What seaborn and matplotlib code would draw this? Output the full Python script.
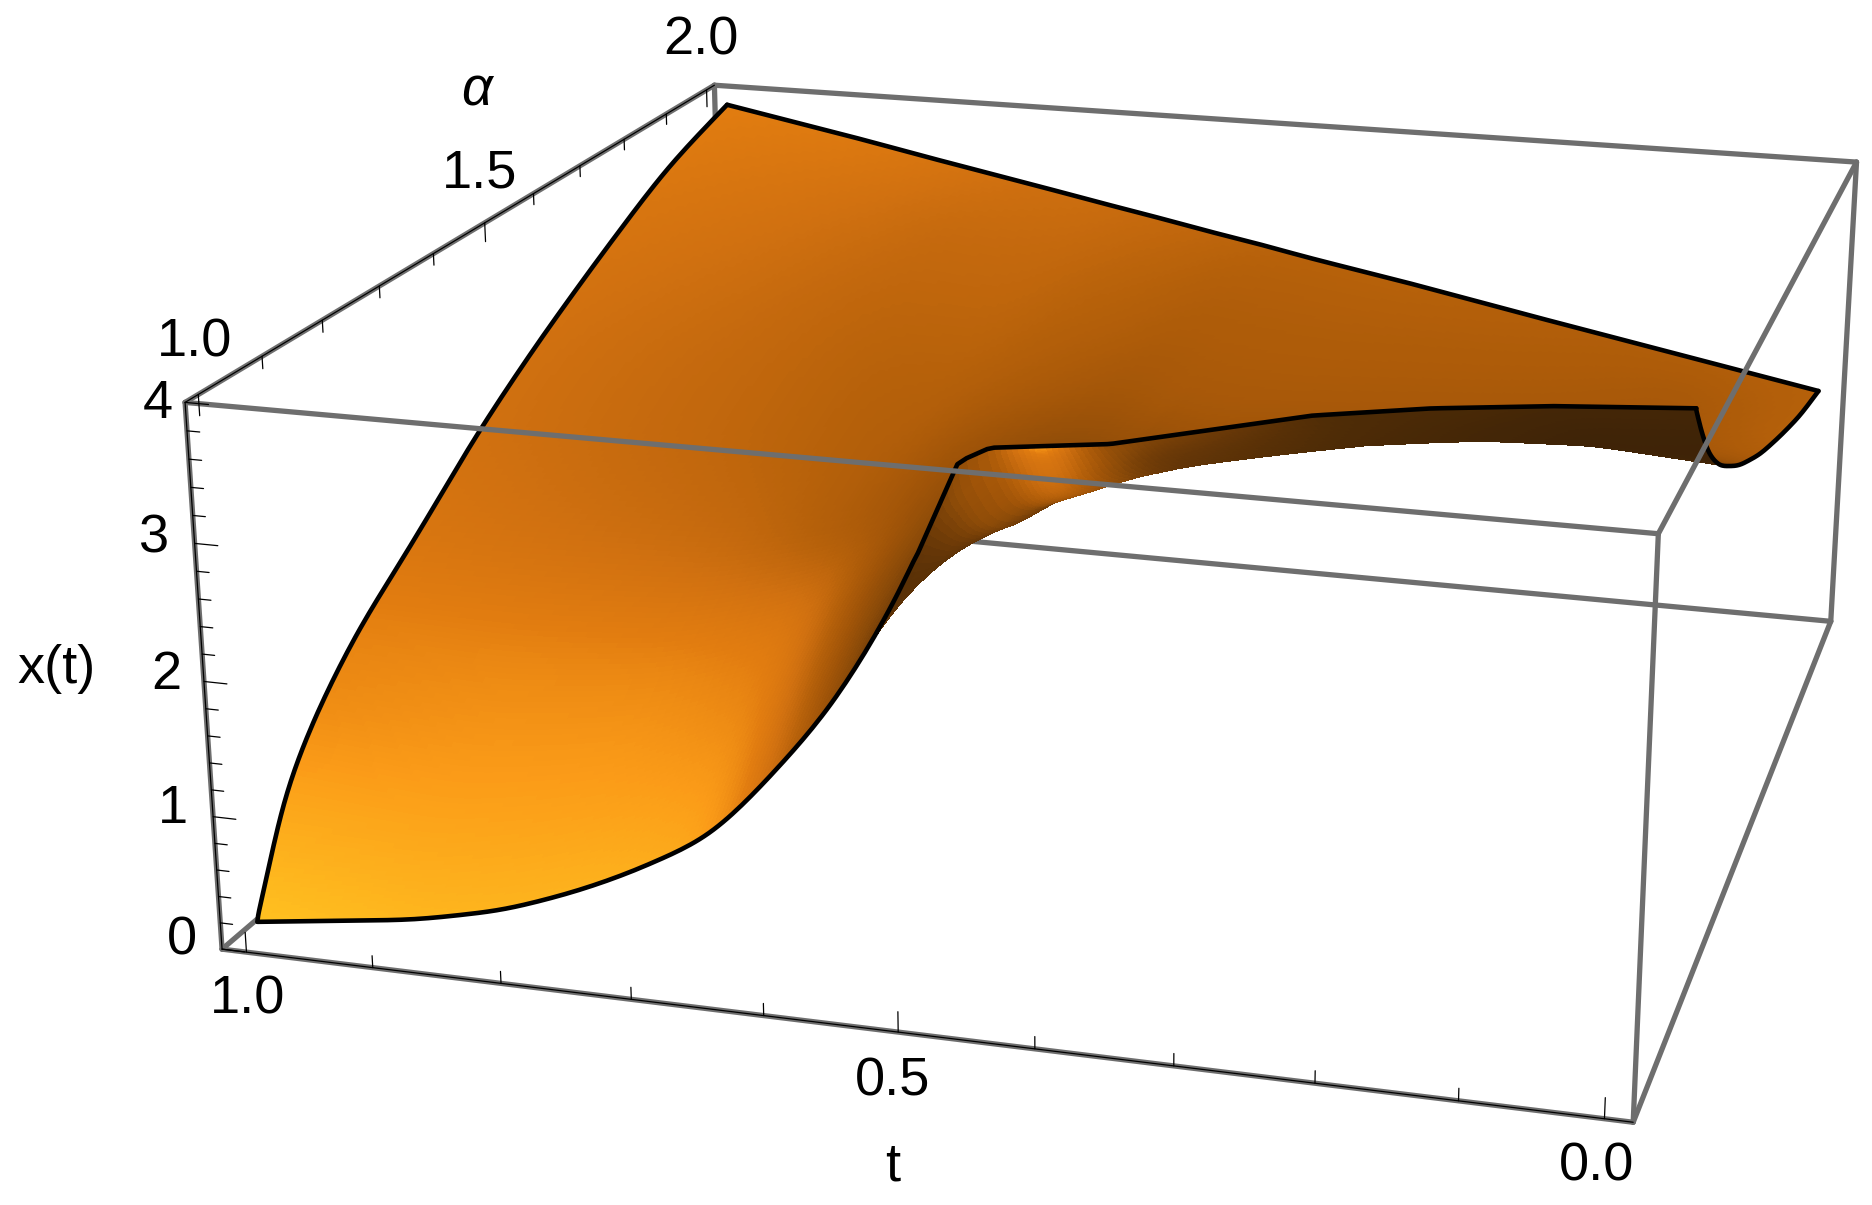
import numpy as np
import matplotlib
matplotlib.use("Agg")
import matplotlib.pyplot as plt
import seaborn as sns

# ---------- DATA ----------
t_min, t_max = -0.0195, 1.0195
alpha_min, alpha_max = 0.98, 2.02
x_min, x_max = 0.0, 4.0

t_major = [0.0, 0.5, 1.0]
t_minor = [0.1, 0.2, 0.3, 0.4, 0.6, 0.7, 0.8, 0.9]
alpha_major = [1.0, 1.5, 2.0]
alpha_minor = [1.1, 1.2, 1.3, 1.4, 1.6, 1.7, 1.8, 1.9]
x_major = [0, 1, 2, 3, 4]
x_minor = [0.2, 0.4, 0.6, 0.8, 1.2, 1.4, 1.6, 1.8, 2.2, 2.4, 2.6, 2.8, 3.2, 3.4, 3.6, 3.8]

# edge where the surface leaves the plot range at x = 4
clip_t = [1.0, 0.458, 0.447, 0.371, 0.254, 0.178, 0.098, 0.0]
clip_alpha = [1.0, 1.0, 1.036, 1.067, 1.17, 1.21, 1.239, 1.262]

# one column of the surface per t value
col_t = [1.0, 0.874, 0.805, 0.749, 0.704, 0.645, 0.604, 0.552, 0.504, 0.458, 0.417, 0.375, 0.251, 0.178, 0.095, 0.0]
a0 = [1.0, 1.056, 1.111, 1.188, 1.302, 1.422, 1.547, 1.68, 1.849, 2.0]
col_alpha = [
    a0, a0, a0, a0, a0, a0, a0, a0, a0, a0,
    [1.05, 1.094, 1.146, 1.219, 1.302, 1.422, 1.547, 1.68, 1.849, 2.0],
    [1.067, 1.115, 1.167, 1.24, 1.323, 1.422, 1.547, 1.68, 1.849, 2.0],
    [1.17, 1.209, 1.25, 1.302, 1.375, 1.458, 1.562, 1.698, 1.854, 2.0],
    [1.21, 1.24, 1.282, 1.334, 1.406, 1.49, 1.583, 1.708, 1.854, 2.0],
    [1.239, 1.271, 1.313, 1.365, 1.438, 1.521, 1.614, 1.729, 1.864, 2.0],
    [1.262, 1.292, 1.337, 1.396, 1.502, 1.625, 1.749, 1.874, 2.0],
]
col_x = [
    [0.15, 0.91, 1.30, 1.68, 2.07, 2.52, 2.90, 3.25, 3.66, 3.88],
    [0.31, 0.80, 1.20, 1.64, 2.12, 2.50, 2.86, 3.16, 3.50, 3.66],
    [0.46, 0.92, 1.27, 1.70, 2.14, 2.51, 2.84, 3.11, 3.41, 3.53],
    [0.66, 1.08, 1.36, 1.76, 2.16, 2.52, 2.82, 3.06, 3.32, 3.43],
    [0.86, 1.26, 1.52, 1.88, 2.26, 2.57, 2.83, 3.03, 3.25, 3.35],
    [1.18, 1.52, 1.76, 2.08, 2.40, 2.64, 2.84, 3.00, 3.16, 3.24],
    [1.60, 1.92, 2.12, 2.36, 2.60, 2.76, 2.84, 2.98, 3.10, 3.17],
    [2.21, 2.40, 2.52, 2.64, 2.76, 2.84, 2.90, 2.96, 3.03, 3.07],
    [2.99, 2.98, 2.96, 2.92, 2.90, 2.90, 2.90, 2.92, 2.96, 2.99],
    [4.00, 3.46, 3.22, 3.10, 2.96, 2.92, 2.88, 2.88, 2.90, 2.90],
    [4.00, 3.50, 3.36, 3.22, 3.06, 2.96, 2.90, 2.88, 2.84, 2.83],
    [4.00, 3.74, 3.50, 3.34, 3.18, 3.02, 2.92, 2.86, 2.80, 2.76],
    [4.00, 3.80, 3.60, 3.40, 3.20, 3.02, 2.88, 2.72, 2.60, 2.53],
    [4.00, 3.84, 3.68, 3.44, 3.20, 2.98, 2.80, 2.62, 2.50, 2.40],
    [4.00, 3.84, 3.64, 3.36, 3.14, 2.90, 2.68, 2.50, 2.34, 2.25],
    [4.00, 3.76, 3.46, 3.20, 2.89, 2.62, 2.41, 2.22, 2.08],
]
# brightness of the surface at the same nodes
col_shade = [
    [1.00, 0.92, 0.85, 0.82, 0.74, 0.70, 0.70, 0.72, 0.76, 0.80],
    [0.97, 0.92, 0.88, 0.83, 0.70, 0.66, 0.66, 0.68, 0.72, 0.77],
    [0.965, 0.915, 0.88, 0.825, 0.68, 0.64, 0.64, 0.65, 0.69, 0.74],
    [0.96, 0.91, 0.88, 0.82, 0.66, 0.62, 0.62, 0.63, 0.66, 0.71],
    [0.95, 0.90, 0.86, 0.80, 0.62, 0.60, 0.60, 0.63, 0.66, 0.69],
    [0.92, 0.87, 0.82, 0.76, 0.55, 0.57, 0.60, 0.63, 0.65, 0.68],
    [0.72, 0.68, 0.62, 0.55, 0.50, 0.51, 0.57, 0.60, 0.63, 0.66],
    [0.45, 0.38, 0.34, 0.32, 0.38, 0.47, 0.54, 0.58, 0.61, 0.64],
    [0.15, 0.18, 0.22, 0.30, 0.34, 0.44, 0.51, 0.55, 0.58, 0.62],
    [0.45, 0.42, 0.28, 0.30, 0.38, 0.47, 0.54, 0.56, 0.58, 0.61],
    [0.92, 0.80, 0.60, 0.35, 0.30, 0.49, 0.54, 0.56, 0.58, 0.61],
    [0.40, 0.30, 0.28, 0.25, 0.30, 0.49, 0.54, 0.56, 0.58, 0.61],
    [0.20, 0.20, 0.19, 0.18, 0.17, 0.49, 0.53, 0.55, 0.57, 0.59],
    [0.18, 0.17, 0.16, 0.15, 0.15, 0.47, 0.52, 0.54, 0.56, 0.58],
    [0.15, 0.14, 0.13, 0.12, 0.12, 0.45, 0.50, 0.52, 0.54, 0.58],
    [0.15, 0.13, 0.12, 0.13, 0.50, 0.58, 0.60, 0.60, 0.60],
]

shade_colors = ["#2b1a08", "#3a2107", "#4f2c06", "#6d3a07", "#8a4a08", "#a05408",
                "#b5600a", "#d07010", "#e27d10", "#fb9c18", "#ffc020"]

GREY = "#6e6e6e"
W, H = 1568, 1009.3

# ---------- STYLE ----------
sns.set_theme(style="white")
plt.rcParams["font.family"] = ["Liberation Sans", "DejaVu Sans"]
cmap = sns.blend_palette(shade_colors, as_cmap=True)

# ---------- VIEW: perspective of the reference box ----------
to_unit = np.array([
    [-1 / (t_max - t_min), 0, 0, t_max / (t_max - t_min)],
    [0, 1 / (alpha_max - alpha_min), 0, -alpha_min / (alpha_max - alpha_min)],
    [0, 0, 1 / (x_max - x_min), 0],
    [0, 0, 0, 1],
])
camera = np.array([
    [1072.4, 600.0, -37.3, 186.0],
    [69.7, -234.0, -471.7, 795.0],
    [0, 0, 0, -1.0],
    [-0.0801, 0.292, -0.0408, 1.0],
])
M = camera @ to_unit

fig = plt.figure(figsize=(18.72, 12.05), dpi=100, facecolor="white")
ax = fig.add_axes([0, 0, 1, 1], projection="3d", computed_zorder=False)
ax.set_axis_off()
ax.set_proj_type("ortho")  # stops Line3D clipping to [-1, 1]
ax.get_proj = lambda: M
ax.apply_aspect = lambda *a, **k: None


def smooth(v, n):
    k = np.bartlett(n + 2)[1:-1]
    k = k / k.sum()
    out = np.convolve(np.pad(v, n // 2, mode="reflect", reflect_type="odd"), k, mode="valid")
    out[0], out[-1] = v[0], v[-1]
    return out


# ---------- SURFACE ----------
s_fine = np.linspace(0, 1, 170) ** 1.6
t_fine = np.linspace(1.0, 0.0, 280)
start = np.interp(t_fine[::-1], clip_t[::-1], clip_alpha[::-1])[::-1]


def resample(values):
    rows = []
    for a, v in zip(col_alpha, values):
        a = np.array(a)
        rows.append(np.interp(s_fine, (a - a[0]) / (a[-1] - a[0]), v))
    rows = np.array(rows)
    raw = np.column_stack([
        np.interp(t_fine[::-1], col_t[::-1], rows[::-1, j])[::-1] for j in range(len(s_fine))
    ])
    out = np.apply_along_axis(smooth, 0, raw, 21)
    # keep the sharp corner where the front edge meets the clip edge
    near = t_fine < 0.49
    out[near, 0] = raw[near, 0]
    out = np.apply_along_axis(smooth, 1, out, 25)
    return out


X = resample(col_x)
S = resample(col_shade)
T = np.repeat(t_fine[:, None], len(s_fine), axis=1)
A = start[:, None] + s_fine[None, :] * (2.0 - start[:, None])

ax.plot_surface(T, A, X, facecolors=cmap(np.clip(S, 0, 1)), rstride=1, cstride=1,
                shade=False, antialiased=False, linewidth=0, zorder=2)


def seg(p, q, color=GREY, lw=3.8, z=1):
    ax.plot([p[0], q[0]], [p[1], q[1]], [p[2], q[2]], color=color, lw=lw, zorder=z,
            solid_capstyle="round")


# ---------- BOX ----------
seg((t_max, alpha_max, 0), (t_max, alpha_min, 0))
seg((t_max, alpha_max, 0), (t_min, alpha_max, 0))
seg((t_max, alpha_max, 0), (t_max, alpha_max, 4))
seg((t_max, alpha_max, 4), (t_min, alpha_max, 4))
seg((t_min, alpha_max, 0), (t_min, alpha_max, 4))
seg((t_max, alpha_min, 4), (t_max, alpha_max, 4), z=4)
seg((t_max, alpha_min, 0), (t_max, alpha_min, 4), z=4)
seg((t_max, alpha_min, 0), (t_min, alpha_min, 0), z=4)
seg((t_max, alpha_min, 4), (t_min, alpha_min, 4), z=4)
seg((t_min, alpha_min, 0), (t_min, alpha_max, 0), z=4)
seg((t_min, alpha_min, 0), (t_min, alpha_min, 4), z=4)
seg((t_min, alpha_min, 4), (t_min, alpha_max, 4), z=4)

# thin axis lines and ticks
thin = dict(color="black", lw=0.9, z=5)
seg((t_max, alpha_min, 0), (t_min, alpha_min, 0), **thin)
seg((t_max, alpha_min, 0), (t_max, alpha_min, 4), **thin)
seg((t_max, alpha_min, 4), (t_max, alpha_max, 4), **thin)
for ticks, size in ((t_major, 0.15), (t_minor, 0.09)):
    for v in ticks:
        seg((v, alpha_min, 0), (v, alpha_min, size), **thin)
for ticks, size in ((alpha_major, 0.15), (alpha_minor, 0.09)):
    for v in ticks:
        seg((t_max, v, 4), (t_max, v, 4 - size), **thin)
for ticks, size in ((x_major, 0.018), (x_minor, 0.0098)):
    for v in ticks:
        seg((t_max, alpha_min, v), (t_max - size, alpha_min, v), **thin)

# ---------- SURFACE OUTLINE ----------
edge = dict(color="black", lw=3.3, zorder=3, solid_joinstyle="round")
ax.plot(T[:, 0], A[:, 0], X[:, 0], **edge)
ax.plot(T[:, -1], A[:, -1], X[:, -1], **edge)
ax.plot(T[0], A[0], X[0], **edge)
ax.plot(T[-1], A[-1], X[-1], **edge)

ax.viewLim.intervalx = (0, W)
ax.viewLim.intervaly = (H, 0)


# ---------- LABELS ----------
def label(px, py, s, **kw):
    fig.text(px / W, 1 - (py + 2) / H, s, ha="center", va="center", color="black", fontsize=39, **kw)


label(587, 32, "2.0")
label(399, 75, "α", style="italic")
label(402, 143, "1.5")
label(163, 285, "1.0")
label(132, 336, "4")
label(129, 449, "3")
label(139, 563, "2")
label(145, 676, "1")
label(152, 786, "0")
label(47, 558, "x(t)")
label(207, 835, "1.0")
label(748, 904, "0.5")
label(748, 975, "t")
label(1337, 975, "0.0")

fig.savefig("out.png", dpi=100, facecolor="white")
